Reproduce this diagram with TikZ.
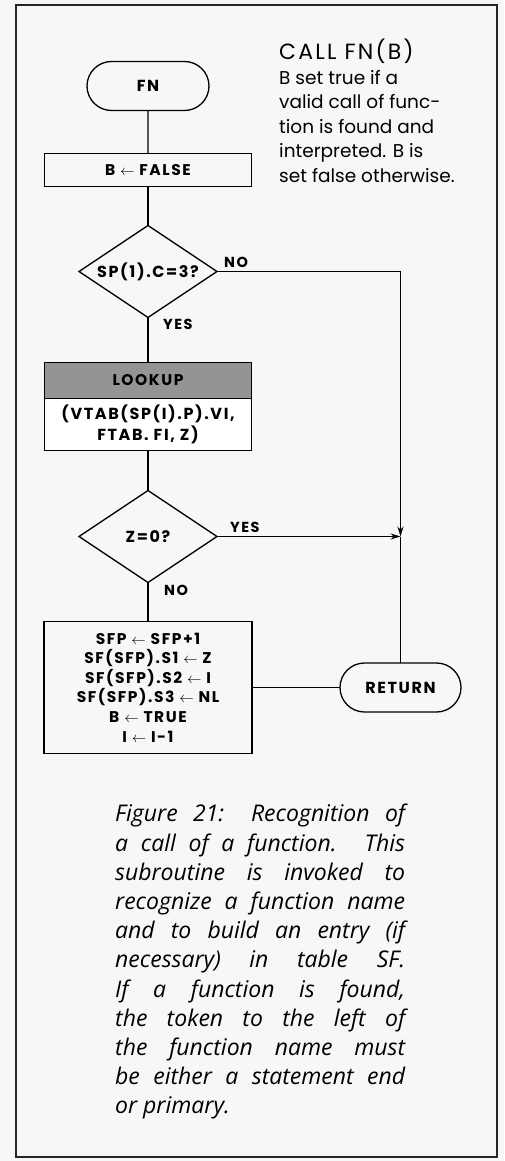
\documentclass[tikz,border=0pt]{standalone}
\usepackage{fontspec}
\setmainfont{Poppins}
\newfontfamily\chartfont[LetterSpace=10]{Poppins}
\newfontfamily\callfont[LetterSpace=10]{Poppins}
\newfontfamily\capfont{Open Sans}
\usepackage{tikz}
\usetikzlibrary{arrows.meta,positioning,shapes.geometric,shapes.misc}

\begin{document}
\begin{tikzpicture}[
    x=1pt, y=-1pt,
    node distance=40pt and 40pt,
    term/.style={draw, rounded rectangle, line width=1.3pt, outer sep=0pt, minimum width=126pt, minimum height=49pt, inner sep=2pt, font=\chartfont\bfseries\fontsize{16}{18}\selectfont},
    proc/.style={draw, rectangle, line width=1.3pt, outer sep=0pt, minimum width=207pt, inner sep=3pt, align=center, font=\chartfont\bfseries\fontsize{15.5}{19.6}\selectfont},
    test/.style={draw, diamond, line width=1.3pt, outer sep=0pt, aspect=1.5, inner sep=1pt, minimum width=138pt, minimum height=92pt, font=\chartfont\bfseries\fontsize{16}{18}\selectfont},
    lbl/.style={inner sep=1pt, font=\chartfont\bfseries\fontsize{14.5}{16}\selectfont},
    line/.style={line width=1.2pt},
    arrow/.style={line, -{Stealth[length=10pt,width=6pt]}},
    frame/.style={line width=2.2pt, draw=black!85}
]

% page and frame
\fill[black!3] (0,0) rectangle (504,1161);
\useasboundingbox (0,0) rectangle (504,1161);
\draw[frame] (16,5) rectangle (497,1157);

% main flow
\node[term] (fn) at (148,86) {FN};
\node[proc, below=43pt of fn, minimum height=33pt] (init) {B $\leftarrow$ FALSE};
\node[test, below=39pt of init] (spc) {SP(1).C=3?};
\node[proc, below=45pt of spc, minimum height=36pt, fill=black!42] (lookhd) {LOOKUP};
\node[proc, below=0pt of lookhd, minimum height=52pt, fill=white, font=\chartfont\bfseries\fontsize{16}{21}\selectfont] (lookbd) {(VTAB(SP(I).P).VI,\\ FTAB. FI, Z)};
\node[test, below=40pt of lookbd] (zt) {Z=0?};
\node[proc, below=39pt of zt, minimum height=132pt, minimum width=208pt] (entry) {SFP $\leftarrow$ SFP+1\\ SF(SFP).S1 $\leftarrow$ Z\\ SF(SFP).S2 $\leftarrow$ I\\ SF(SFP).S3 $\leftarrow$ NL\\ B $\leftarrow$ TRUE\\ I $\leftarrow$ I-1};
\node[term, right=88pt of entry, minimum width=125pt] (ret) {RETURN};
\coordinate (merge) at (zt.east -| ret.north);

% connectors
\draw[line] (fn) -- (init);
\draw[line] (init) -- (spc);
\draw[line] (spc) -- (lookhd);
\draw[line] (lookbd) -- (zt);
\draw[line] (zt) -- (entry);
\draw[line] (entry) -- (ret);
\draw[arrow] (spc.east) -| (merge);
\draw[arrow] (zt.east) -- (merge);
\draw[line] (merge) -- (ret.north);

% branch labels
\node[lbl, above right=3pt and 6pt of spc.east] (spcno) {NO};
\node[lbl, below right=0pt and 14pt of spc.south] (spcyes) {YES};
\node[lbl, above right=3pt and 12pt of zt.east] (ztyes) {YES};
\node[lbl, below right=1pt and 15pt of zt.south] (ztno) {NO};

% note and caption
\node[anchor=north west, align=left, inner sep=0pt, font=\fontsize{18.5}{24.5}\selectfont] (note) at (279,39) {{\callfont\fontsize{22}{24.5}\selectfont CALL FN(B)}\\ B set true if a\\ valid call of func-\\ tion is found and\\ interpreted. B is\\ set false otherwise.};
\node[anchor=north west, text width=290pt, align=justify, inner sep=0pt, font=\capfont\itshape\fontsize{23}{29.2}\selectfont] (caption) at (115,804) {Figure 21: Recognition of\linebreak a call of a function. This\linebreak subroutine is invoked to\linebreak recognize a function name\linebreak and to build an entry (if\linebreak necessary) in table SF.\linebreak If a function is found,\linebreak the token to the left of\linebreak the function name must\linebreak be either a statement end\linebreak or primary.};

\end{tikzpicture}
\end{document}
